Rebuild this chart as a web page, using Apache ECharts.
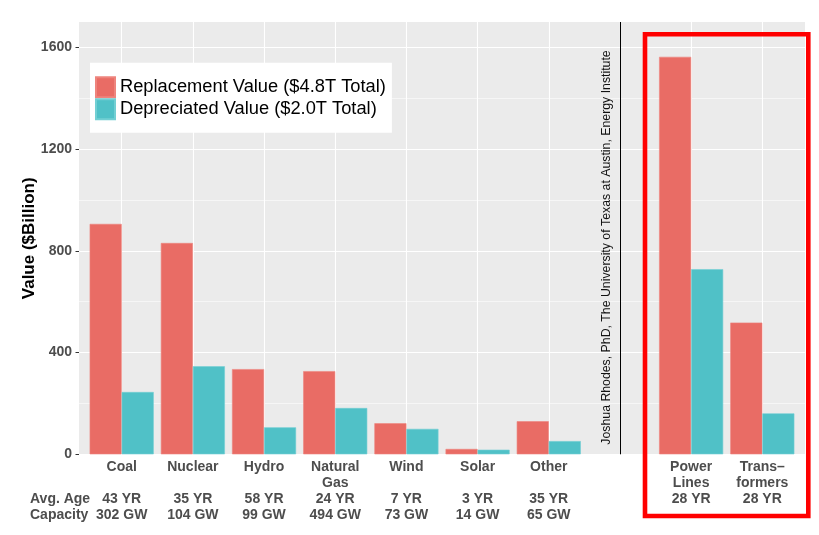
<!DOCTYPE html>
<html>
<head>
<meta charset="utf-8">
<script src="https://cdn.jsdelivr.net/npm/echarts@6/dist/echarts.min.js"></script>
<style>html,body{margin:0;padding:0;background:#fff}#c{width:819px;height:535px}</style>
</head>
<body>
<div id="c"></div>
<script>
const categories = ['Coal', 'Nuclear', 'Hydro', 'Natural\nGas', 'Wind', 'Solar', 'Other', '', 'Power\nLines', 'Trans–\nformers'];
const avgAge = ['43 YR', '35 YR', '58 YR', '24 YR', '7 YR', '3 YR', '35 YR', '', '28 YR', '28 YR'];
const capacity = ['302 GW', '104 GW', '99 GW', '494 GW', '73 GW', '14 GW', '65 GW', '', '', ''];
const replacementValue = [906, 831, 335, 327, 122, 21, 130, null, 1563, 518];
const depreciatedValue = [245, 346, 106, 182, 100, 18, 52, null, 728, 161];
const yTicks = [0, 400, 800, 1200, 1600];
const yMinor = [200, 600, 1000, 1400];
const seriesNames = ['Replacement Value ($4.8T Total)', 'Depreciated Value ($2.0T Total)'];
const attribution = 'Joshua Rhodes, PhD, The University of Texas at Austin, Energy Institute';

const FONT = '"Liberation Sans", Arial, Helvetica, sans-serif';
const RED = '#E96C65', TEAL = '#50C1C7';

const xLabels = categories.map((c, i) => {
  const lines = c.split('\n');
  if (lines.length === 1) lines.push('');
  if (avgAge[i]) lines.push(avgAge[i]);
  if (capacity[i]) lines.push(capacity[i]);
  return c === '' ? '' : lines.join('\n');
});

const markData = [];
yTicks.forEach(v => markData.push({ yAxis: v, lineStyle: { color: '#fff', width: 1.1, type: 'solid' } }));
yMinor.forEach(v => markData.push({ yAxis: v, lineStyle: { color: '#fff', width: 0.55, type: 'solid' } }));
categories.forEach((c, i) => markData.push({ xAxis: i, lineStyle: { color: '#fff', width: 1.1, type: 'solid' } }));
markData.push({ xAxis: categories.indexOf(''), lineStyle: { color: '#000', width: 1, type: 'solid' } });

const chart = echarts.init(document.getElementById('c'), null, { renderer: 'canvas' });
chart.setOption({
  animation: false,
  backgroundColor: '#fff',
  textStyle: { fontFamily: FONT },
  grid: [
    { left: 79, right: 14, top: 22, bottom: 80.7, show: true, backgroundColor: '#EBEBEB', borderWidth: 0 },
    { left: 86.1, right: 21.1, top: 22, bottom: 80.7 },
    { left: 79, right: 14, top: 47.4, bottom: 80.7 }
  ],
  xAxis: [
    { gridIndex: 0, type: 'value', min: -0.6, max: categories.length - 0.4, show: false },
    { gridIndex: 1, type: 'category', data: xLabels, boundaryGap: true,
      axisLine: { show: false }, axisTick: { show: false }, splitLine: { show: false },
      axisLabel: { interval: 0, fontSize: 14, fontWeight: 'bold', color: '#4d4d4d', lineHeight: 16.2, margin: 4.5, fontFamily: FONT } },
    { gridIndex: 2, type: 'value', show: false }
  ],
  yAxis: [
    { gridIndex: 0, type: 'value', min: 0, max: 1700, show: false },
    { gridIndex: 1, type: 'value', min: 0, max: 1700, show: false },
    { gridIndex: 2, type: 'value', min: 0, max: 1600, interval: 400,
      name: '', axisLine: { show: false }, splitLine: { show: false },
      axisTick: { show: true, length: 3.5, lineStyle: { color: '#333', width: 1 } },
      axisLabel: { fontSize: 14, fontWeight: 'bold', color: '#4d4d4d', margin: 7, fontFamily: FONT,
        formatter: v => String(v) } }
  ],
  legend: {
    z: 50, zlevel: 0,
    left: 90, top: 62.7, orient: 'vertical', icon: 'rect',
    itemWidth: 19, itemHeight: 20, itemGap: 0,
    padding: [13.5, 6, 12.5, 5], backgroundColor: '#fff',
    textStyle: { fontSize: 18.3, color: '#000', fontFamily: FONT, lineHeight: 20 },
    data: seriesNames
  },
  series: [
    { type: 'line', xAxisIndex: 0, yAxisIndex: 0, data: [[0, 0]], showSymbol: false, symbolSize: 0,
      lineStyle: { opacity: 0 }, z: 1, silent: true,
      markLine: { z: 1, silent: true, symbol: 'none', label: { show: false }, animation: false, data: markData } },
    { type: 'bar', name: seriesNames[0], xAxisIndex: 1, yAxisIndex: 1, data: replacementValue,
      barWidth: '45%', barGap: '0%', itemStyle: { color: RED, borderColor: '#EE847D', borderWidth: 0.6 }, z: 3 },
    { type: 'bar', name: seriesNames[1], xAxisIndex: 1, yAxisIndex: 1, data: depreciatedValue,
      barWidth: '45%', barGap: '0%', itemStyle: { color: TEAL, borderColor: '#72CFD3', borderWidth: 0.6 }, z: 3 }
  ],
  graphic: [
    { type: 'text', z: 100, x: 29, y: 238.3, rotation: Math.PI / 2,
      style: { text: 'Value ($Billion)', font: 'bold 17px ' + FONT, fill: '#000', align: 'center', verticalAlign: 'middle' } },
    { type: 'text', z: 100, x: 30, y: 499.3,
      style: { text: 'Avg. Age', font: 'bold 14px ' + FONT, fill: '#4d4d4d', align: 'left', verticalAlign: 'middle' } },
    { type: 'text', z: 100, x: 30, y: 515.5,
      style: { text: 'Capacity', font: 'bold 14px ' + FONT, fill: '#4d4d4d', align: 'left', verticalAlign: 'middle' } },
    { type: 'text', z: 100, x: 607, y: 247.5, rotation: Math.PI / 2,
      style: { text: attribution, font: '12.3px ' + FONT, fill: '#111', align: 'center', verticalAlign: 'middle' } },
    { type: 'rect', z: 100, shape: { x: 645, y: 34.3, width: 163.3, height: 481.7 },
      style: { fill: 'none', stroke: '#FF0000', lineWidth: 4.6 } }
  ]
});
</script>
</body>
</html>
